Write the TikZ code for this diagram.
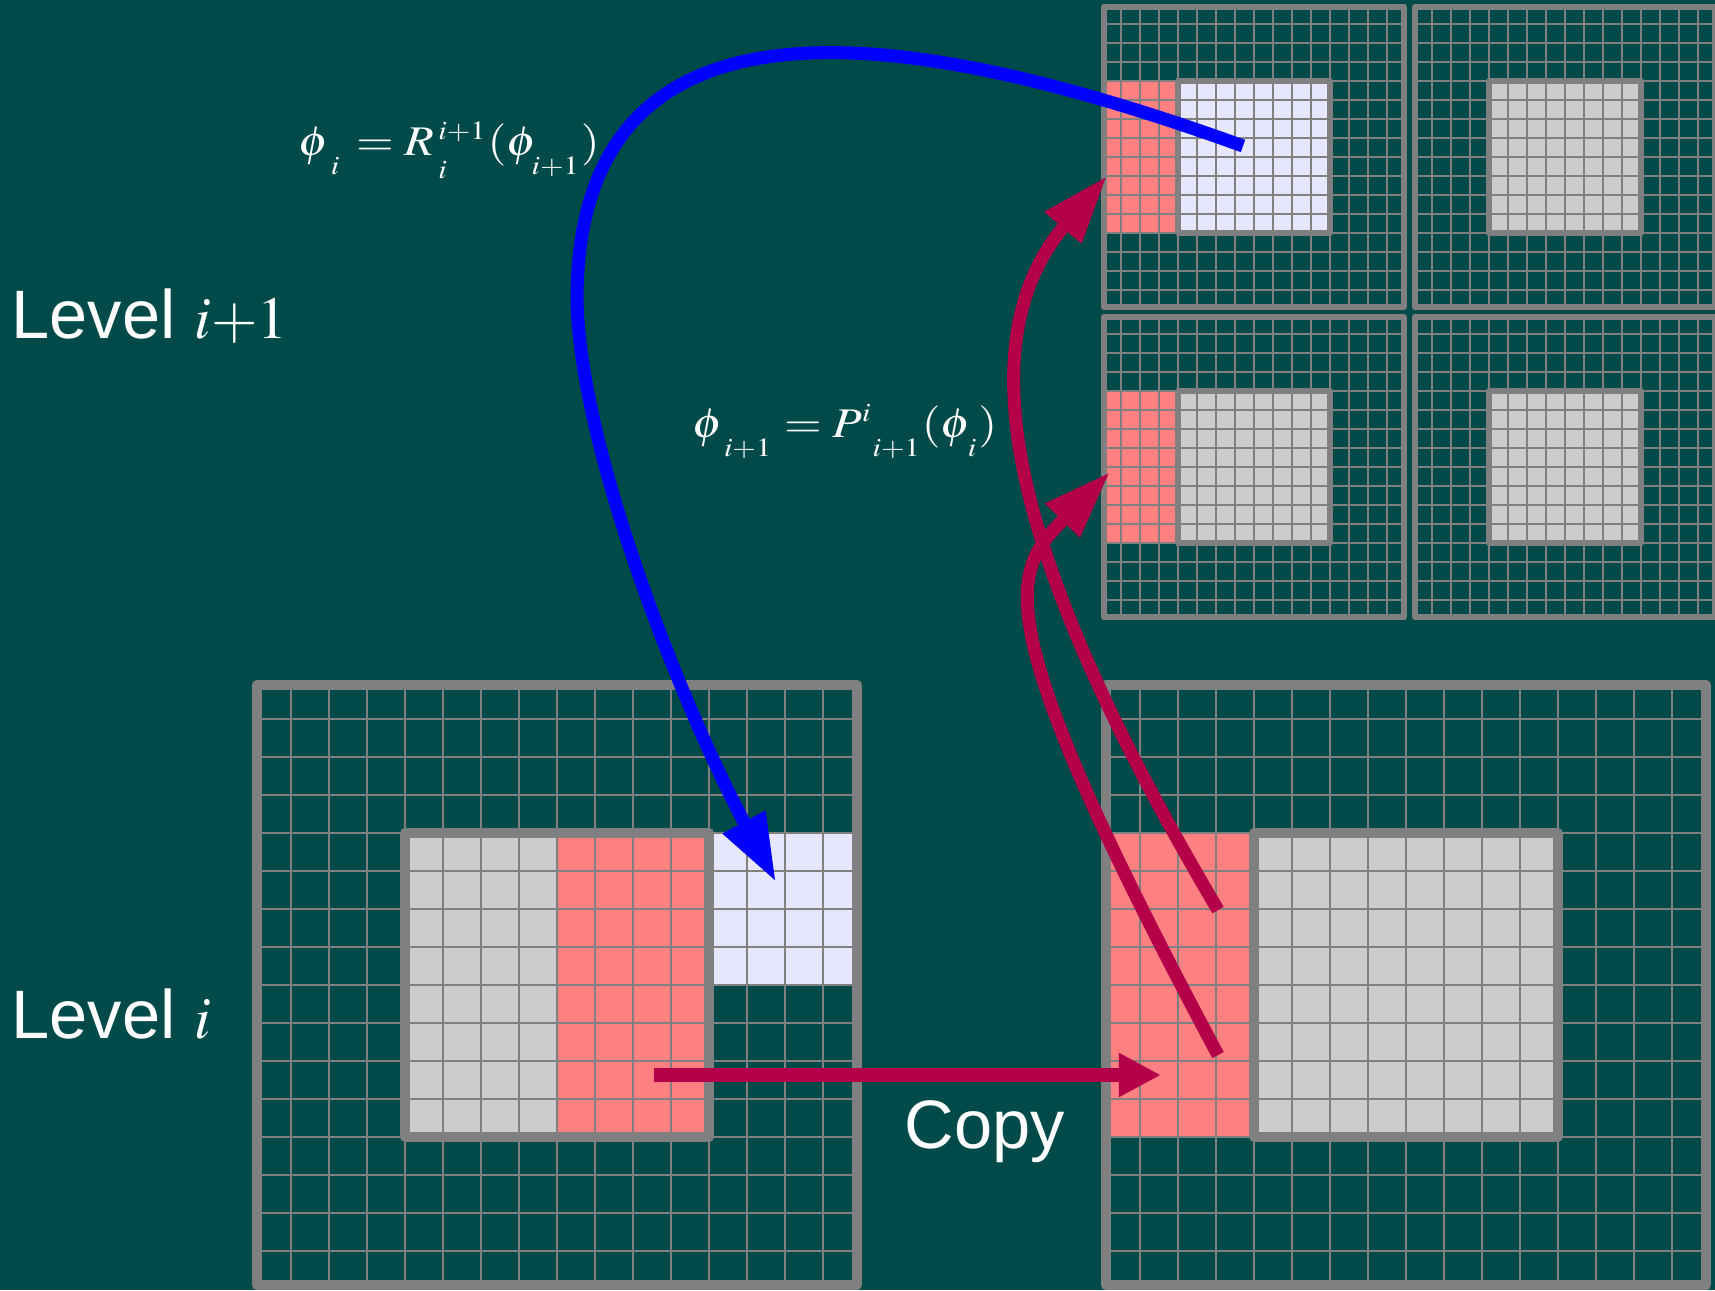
\documentclass[tikz,border=0pt]{standalone}
\usepackage{mathptmx}
\usepackage[no-math]{fontspec}
\setmainfont{Liberation Sans}
\usetikzlibrary{arrows.meta}

\definecolor{bgteal}{RGB}{0,75,74}
\definecolor{framegray}{RGB}{128,128,128}
\definecolor{cellgray}{RGB}{204,204,204}
\definecolor{ghostred}{RGB}{255,128,128}
\definecolor{finelav}{RGB}{230,230,255}
\definecolor{prolongred}{RGB}{180,0,72}
\definecolor{restrictblue}{RGB}{0,0,255}

\newcommand{\dn}[1]{\raisebox{-0.6ex}{\fontsize{7.5}{9}\selectfont$#1$}}
\newcommand{\up}[1]{\mbox{\fontsize{7.5}{9}\selectfont$#1$}}
\newcommand{\lvlmath}[1]{{\fontsize{17}{20}\selectfont$#1$}}
\newcommand{\meshpatch}[5]{%
  \begin{scope}[shift={(#1,#2)}, scale=#3]
    #5
    \foreach \k in {-3,...,11} {
      \draw[meshline] (\k,-3.9) -- (\k,11.9);
      \draw[meshline] (-3.9,\k) -- (11.9,\k);
    }
    \draw[patchframe, line width=#4] (0,0) rectangle (8,8);
    \draw[patchframe, line width=#4] (-3.9,-3.9) rectangle (11.9,11.9);
  \end{scope}}

\begin{document}
\begin{tikzpicture}[x=0.01cm, y=-0.01cm,
    meshline/.style={framegray, line width=0.4pt},
    patchframe/.style={framegray, line join=round},
    lvltext/.style={text=white, inner sep=0pt, font=\fontsize{19.5}{23}\selectfont},
    eqtext/.style={text=white, inner sep=0pt, font=\fontsize{12}{14}\selectfont},
    restrictarrow/.style={restrictblue, line width=0.13cm,
      -{Triangle[length=0.68cm,width=0.45cm]}},
    prolongarrow/.style={prolongred, line width=0.13cm,
      -{Triangle[length=0.68cm,width=0.45cm]}},
    copyarrow/.style={prolongred, line width=0.14cm,
      -{Triangle[length=0.42cm,width=0.41cm]}}
  ]
  \useasboundingbox (0,0) rectangle (1715,1290);
  \fill[bgteal] (0,0) rectangle (1715,1290);

  % level i+1
  \meshpatch{1178}{81}{19}{0.06cm}{
    \fill[ghostred] (-3.9,0) rectangle (0,8);
    \fill[finelav] (0,0) rectangle (8,8);}
  \meshpatch{1489}{81}{19}{0.06cm}{
    \fill[cellgray] (0,0) rectangle (8,8);}
  \meshpatch{1178}{391}{19}{0.06cm}{
    \fill[ghostred] (-3.9,0) rectangle (0,8);
    \fill[cellgray] (0,0) rectangle (8,8);}
  \meshpatch{1489}{391}{19}{0.06cm}{
    \fill[cellgray] (0,0) rectangle (8,8);}

  % level i
  \meshpatch{405}{833}{38}{0.1cm}{
    \fill[cellgray] (0,0) rectangle (4,8);
    \fill[ghostred] (4,0) rectangle (8,8);
    \fill[finelav] (8,0) rectangle (11.9,4);}
  \meshpatch{1254}{833}{38}{0.1cm}{
    \fill[ghostred] (-3.9,0) rectangle (0,8);
    \fill[cellgray] (0,0) rectangle (8,8);}

  \node[lvltext, anchor=base west] (lvlfine) at (11,338) {Level \lvlmath{i{+}1}};
  \node[lvltext, anchor=base west] (lvlcoarse) at (11,1038) {Level \lvlmath{i}};
  \node[lvltext, anchor=base west] (copy) at (904,1148) {Copy};
  \node[eqtext, anchor=base west] (restrict) at (298,155)
    {\scalebox{1.15}[1]{$\phi_{\kern1.7pt\dn{i}} \kern1pt= R_{\kern1pt\dn{i}}^{\kern1pt\up{i{+}1}}(\phi_{\dn{i{+}1}})$}};
  \node[eqtext, anchor=base west] (prolong) at (692,437)
    {\scalebox{1.15}[1]{$\phi_{\kern1.5pt\dn{i{+}1}} = P^{\up{i}}{}_{\dn{i{+}1}}(\phi_{\kern0.5pt\dn{i}})$}};

  \coordinate (restrictFrom) at (1243,146);
  \coordinate (restrictBend) at (577,300);
  \coordinate (restrictTo) at (776,882);
  \coordinate (prolongFromA) at (1218,910);
  \coordinate (prolongToA) at (1107,176);
  \coordinate (prolongFromB) at (1218,1055);
  \coordinate (prolongToB) at (1110,472);
  \coordinate (copyFrom) at (654,1075);
  \coordinate (copyTo) at (1161,1075);

  \draw[restrictarrow] (restrictFrom) .. controls (914,27) and (577,-30) .. (restrictBend)
    .. controls (580,450) and (682,706) .. (restrictTo);
  \draw[prolongarrow] (prolongFromA) .. controls (1040,609) and (950,360) .. (prolongToA);
  \draw[prolongarrow] (prolongFromB) .. controls (980,610) and (1012,572) .. (prolongToB);
  \draw[copyarrow] (copyFrom) -- (copyTo);
\end{tikzpicture}
\end{document}
